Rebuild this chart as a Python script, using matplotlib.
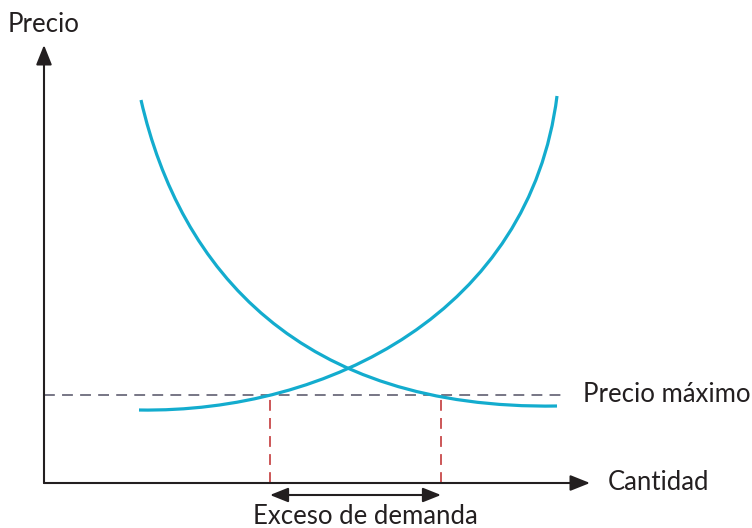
import matplotlib.pyplot as plt
from matplotlib.path import Path
from matplotlib.patches import PathPatch

# Coordenadas en "unidades de dibujo": origen en el cruce de los ejes
# Curva de demanda (bezier cúbica: inicio, control1, control2, fin)
demanda_ctrl = [(97, 383), (136, 213), (256, 73), (513, 77)]
# Curva de oferta
oferta_ctrl = [(95, 73), (285, 70), (486, 172), (513, 387)]

precio_maximo = 88
cantidad_ofrecida = 226
cantidad_demandada = 397
fin_precio_max = 521

eje_x_fin = 546
eje_y_fin = 438

cian = '#13acce'
gris = '#6c6b7c'
rojo = '#c8494a'
negro = '#231f20'

plt.rcParams['font.family'] = ['Lato', 'DejaVu Sans']

fig = plt.figure(figsize=(7.52, 5.28), dpi=100)
ax = fig.add_axes([0, 0, 1, 1])
ax.set_xlim(-44, 708)
ax.set_ylim(-45, 483)
ax.axis('off')

# Curvas
codes = [Path.MOVETO, Path.CURVE4, Path.CURVE4, Path.CURVE4]
for ctrl in [demanda_ctrl, oferta_ctrl]:
    ax.add_patch(PathPatch(Path(ctrl, codes), fill=False, edgecolor=cian, lw=2.3, zorder=3))

# Precio máximo
ax.plot([0, fin_precio_max], [precio_maximo, precio_maximo], color=gris, lw=1.3,
        dashes=(6, 4), zorder=2)
for q in [cantidad_ofrecida, cantidad_demandada]:
    ax.plot([q, q], [0, precio_maximo], color=rojo, lw=1.3, dashes=(6, 4), zorder=2)

# Ejes
flecha = dict(arrowstyle='-|>,head_length=1.0,head_width=0.4', color=negro, lw=1.5,
              mutation_scale=12, shrinkA=0, shrinkB=0)
ax.annotate('', xy=(0, eje_y_fin), xytext=(0, 0), arrowprops=flecha)
ax.annotate('', xy=(eje_x_fin, 0), xytext=(0, 0), arrowprops=flecha)

# Exceso de demanda
doble = dict(arrowstyle='<|-|>,head_length=1.0,head_width=0.4', color=negro, lw=1.5,
             mutation_scale=11, shrinkA=0, shrinkB=0)
ax.annotate('', xy=(cantidad_demandada, -12), xytext=(cantidad_ofrecida, -12), arrowprops=doble)

fs = 18.5
ax.text(0, 458, 'Precio', ha='center', va='center', fontsize=fs, color=negro)
ax.text(564, 0, 'Cantidad', ha='left', va='center', fontsize=fs, color=negro)
ax.text(539, precio_maximo, 'Precio máximo', ha='left', va='center', fontsize=fs, color=negro)
ax.text(321, -34, 'Exceso de demanda', ha='center', va='center', fontsize=fs, color=negro)

fig.savefig('out.png', dpi=100)
